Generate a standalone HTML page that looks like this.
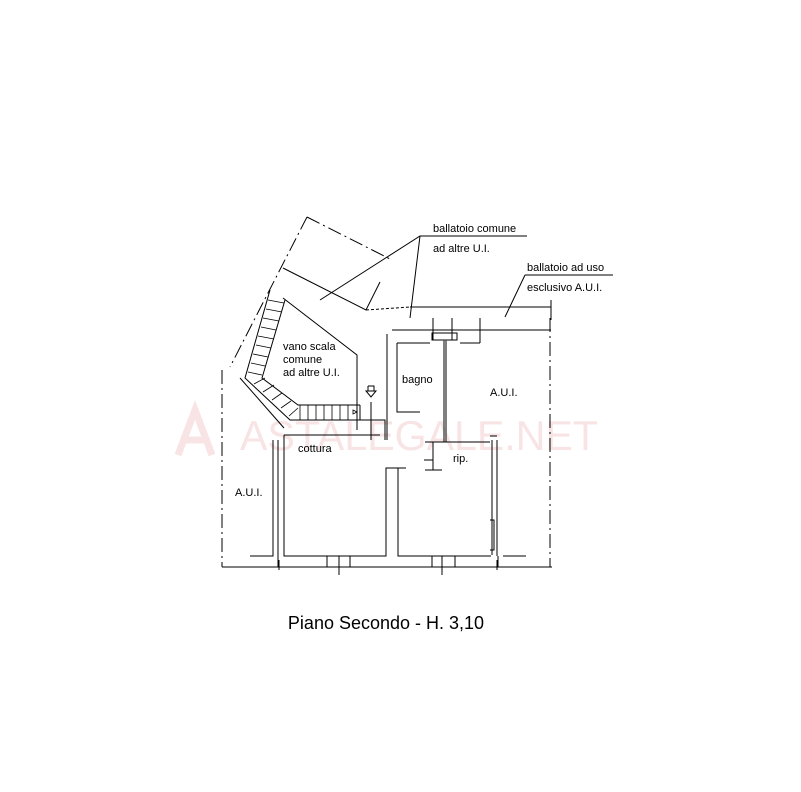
<!DOCTYPE html>
<html><head><meta charset="utf-8"><style>
html,body{margin:0;padding:0;background:#fff;width:801px;height:792px;overflow:hidden}
svg{display:block}
text{font-family:"Liberation Sans",Arial,sans-serif;fill:#000}
</style></head><body>
<svg width="801" height="792" viewBox="0 0 801 792" xmlns="http://www.w3.org/2000/svg">
<!-- watermark -->
<text x="240" y="450" font-size="42" style="fill:#f8e4e4" textLength="358" lengthAdjust="spacingAndGlyphs">ASTALEGALE.NET</text>
<path d="M178 455 L195 410 L212 455 M186 440 L204 440" stroke="#f8e4e4" stroke-width="7" fill="none"/>
<g stroke="#000" stroke-width="1" fill="none">
<path d="M307 217 L392 260 M307 217 L230 367" stroke-dasharray="14,4,2,4"/>
<path d="M222 370 L222 567 M550 318 L550 567" stroke-dasharray="14,4,2,4"/>
<path d="M283 268 L366 310 L380 282 M320 300 L420 236 L430 236"/>
<path d="M366 310 L410 307" stroke-dasharray="3,2"/>
<path d="M410 307 L551 307 M551 300 L551 320"/>
<path d="M420 236 L410 318 M430 236 L527 236"/>
<path d="M525 275 L505 317 M525 275 L613 275"/>
<path d="M387 334 L387 440 M392 330 L551 330 M397 343 L430 343 M460 343 L480 343 M480 318 L480 343 M397 343 L397 412 L420 412"/>
<path d="M433 318 L433 340 M452 318 L452 340 M432 333 L457 333 L457 340 L432 340 Z"/>
<path d="M444 340 L444 442 M446 340 L446 442" stroke="#555" stroke-width="1.5"/>
<path d="M425 442 L490 442 M433 442 L433 470 M425 470 L442 470 M424 460 L433 460 M492 440 L492 555 M497 440 L497 556 M490 436 L497 436"/>
<path d="M490 520 L494 520 L494 550 L490 550"/>
<path d="M284 435 L380 435 M284 435 L284 556 L386 556 L386 468 L390 468 M398 468 L398 556 L491 556 M390 468 L406 468"/>
<path d="M273 440 L273 556 L250 556 M278 440 L278 567 M503 556 L526 556 M498 556 L498 567"/>
<path d="M222 567 L552 567 M339 567 L339 575 M442 567 L442 575 M279 560 L279 570 M497 560 L497 570"/>
<path d="M327 556 L350 556 L350 567 L327 567 Z M432 556 L455 556 L455 567 L432 567 Z M339 556 L339 567 M442 556 L442 567"/>
<path d="M270 290 L245 378 L290 420 L360 420 M285 300 L262 378 L298 405 L360 405"/>
<path d="M283 298 L357 355 L357 430 M240 378 L284 428"/>
<path d="M360 405 L360 420 M360 420 L385 420 L385 440"/>
<g stroke-width="0.8">
<path d="M268 300 L284 303 M266 309 L282 312 M263 318 L279 321 M261 327 L276 330 M258 336 L274 339 M256 345 L271 348 M253 354 L268 357 M251 363 L265 366 M248 372 L262 375"/>
<path d="M254 384 L265 378 M263 392 L274 385 M272 400 L282 393 M281 408 L291 401 M289 416 L298 408"/>
<path d="M300 405 L300 420 M308 405 L308 420 M316 405 L316 420 M324 405 L324 420 M332 405 L332 420 M340 405 L340 420 M348 405 L348 420"/>
<path d="M353 410 L357 412 L353 414 Z"/>
</g>
<path d="M366 391 L376 391 L371 397 Z M368 386 L374 386 L374 391 M368 386 L368 391 M371 402 L371 440"/>
</g>
<text x="283" y="350" font-size="11">vano scala</text>
<text x="283" y="363" font-size="11">comune</text>
<text x="283" y="376" font-size="11">ad altre U.I.</text>
<text x="402" y="383" font-size="11">bagno</text>
<text x="490" y="396" font-size="11">A.U.I.</text>
<text x="298" y="452" font-size="11">cottura</text>
<text x="453" y="462" font-size="11">rip.</text>
<text x="235" y="496" font-size="11">A.U.I.</text>
<text x="433" y="232" font-size="11">ballatoio comune</text>
<text x="433" y="252" font-size="11">ad altre U.I.</text>
<text x="527" y="271" font-size="11">ballatoio ad uso</text>
<text x="527" y="291" font-size="11">esclusivo A.U.I.</text>
<text x="386" y="629" font-size="18" text-anchor="middle">Piano Secondo - H. 3,10</text>
</svg>
</body></html>
